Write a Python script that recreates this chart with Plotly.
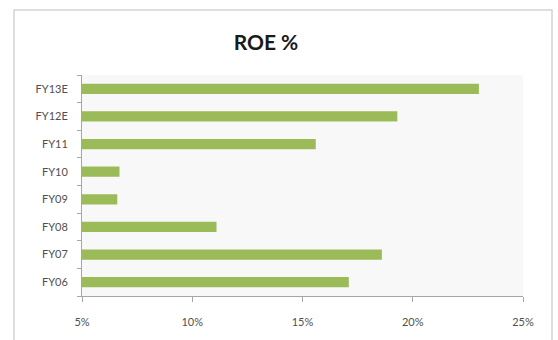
import plotly.graph_objects as go

# ROE by fiscal year (%), bottom to top
years = ["FY06", "FY07", "FY08", "FY09", "FY10", "FY11", "FY12E", "FY13E"]
roe = [17.1, 18.6, 11.1, 6.6, 6.7, 15.6, 19.3, 23.0]
x_ticks = [5, 10, 15, 20, 25]
x_tick_text = ["5%", "10%", "15%", "20%", "25%"]

W, H = 558, 340
L, R, T, B = 82, 35, 75, 44
pw, ph = W - L - R, H - T - B

fig = go.Figure(
    go.Bar(
        x=roe,
        y=years,
        orientation="h",
        marker=dict(color="#9bbb59", line=dict(width=0)),
        width=0.37,
        hoverinfo="x+y",
    )
)

axis_font = dict(family="Lato, 'Open Sans', sans-serif", size=11, color="#505050")

fig.update_layout(
    width=W,
    height=H,
    margin=dict(l=L, r=R, t=T, b=B),
    paper_bgcolor="white",
    plot_bgcolor="#f8f8f8",
    showlegend=False,
    title=dict(
        text="<b>ROE %</b>",
        x=266 / W,
        xanchor="center",
        y=1 - 43 / H,
        yanchor="middle",
        font=dict(family="Lato, 'Open Sans', sans-serif", size=21, color="#1a1a1a"),
    ),
    xaxis=dict(
        range=[5, 25],
        tickvals=x_ticks,
        ticktext=x_tick_text,
        showgrid=False,
        zeroline=False,
        showline=True,
        linecolor="#a6a6a6",
        linewidth=1,
        ticks="outside",
        ticklen=5,
        tickcolor="#a6a6a6",
        tickfont=axis_font,
        ticklabelstandoff=11,
        fixedrange=True,
    ),
    yaxis=dict(
        type="category",
        categoryorder="array",
        categoryarray=years,
        range=[-0.5, len(years) - 0.5],
        showgrid=False,
        zeroline=False,
        showline=True,
        linecolor="#a6a6a6",
        linewidth=1,
        ticks="outside",
        tickson="boundaries",
        ticklen=4,
        tickcolor="#a6a6a6",
        tickfont=axis_font,
        ticklabelstandoff=11,
        fixedrange=True,
    ),
    shapes=[
        dict(
            type="rect",
            xref="paper",
            yref="paper",
            x0=(14 - L) / pw,
            x1=(552 - L) / pw,
            y0=(T + ph - 350) / ph,
            y1=(T + ph - 10) / ph,
            line=dict(color="#d4d4d4", width=1.5),
            fillcolor="rgba(0,0,0,0)",
            layer="below",
        )
    ],
)

fig.write_html("out.html")
